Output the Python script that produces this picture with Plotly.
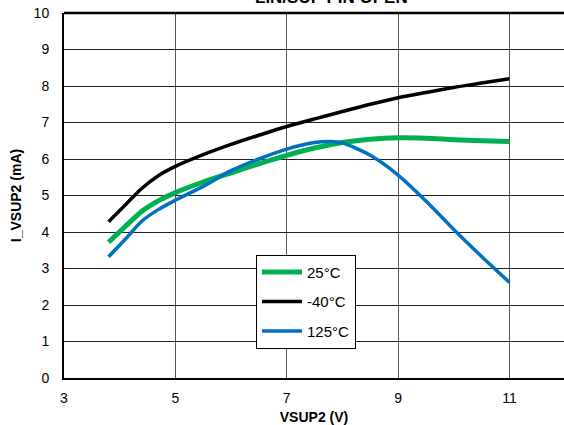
import plotly.graph_objects as go

x_25 = [3.8, 4.1, 4.4, 4.7, 5.0, 5.5, 6.0, 6.5, 7.0, 7.5, 8.0, 8.5, 9.0, 9.5, 10.0, 10.5, 11.0]
y_25 = [3.72, 4.15, 4.57, 4.86, 5.08, 5.37, 5.62, 5.87, 6.1, 6.3, 6.45, 6.54, 6.58, 6.57, 6.53, 6.5, 6.48]

x_m40 = [3.8, 4.1, 4.4, 4.7, 5.0, 5.5, 6.0, 6.5, 7.0, 7.5, 8.0, 8.5, 9.0, 9.5, 10.0, 10.5, 11.0]
y_m40 = [4.28, 4.74, 5.2, 5.55, 5.8, 6.12, 6.4, 6.65, 6.89, 7.1, 7.3, 7.5, 7.68, 7.82, 7.96, 8.08, 8.2]

x_125 = [3.8, 4.1, 4.4, 4.7, 5.0, 5.5, 6.0, 6.5, 7.0, 7.5, 7.8, 8.0, 8.5, 9.0, 9.5, 10.0, 10.5, 11.0]
y_125 = [3.32, 3.8, 4.3, 4.62, 4.87, 5.25, 5.68, 6.0, 6.27, 6.45, 6.48, 6.44, 6.1, 5.56, 4.85, 4.07, 3.33, 2.62]

series = [
    ("25°C", x_25, y_25, "#00B050", 5),
    ("-40°C", x_m40, y_m40, "#000000", 3.5),
    ("125°C", x_125, y_125, "#0070C0", 3.5),
]

x_ticks = [3, 5, 7, 9, 11]
y_ticks = list(range(0, 11))
title_text = "LIN/SUP PIN OPEN"

fig = go.Figure()
for name, xs, ys, color, w in series:
    fig.add_trace(go.Scatter(x=xs, y=ys, mode="lines", name=name, legendgroup=name,
                             line=dict(color=color, width=w, shape="spline", smoothing=0.8)))

fig.update_layout(
    width=564, height=425,
    margin=dict(l=64, r=0, t=13, b=47),
    paper_bgcolor="white", plot_bgcolor="white",
    font=dict(family="Arial, Liberation Sans, sans-serif", color="#000000", size=14),
    showlegend=True,
    legend=dict(x=0.384, y=0.338, xanchor="left", yanchor="top",
                bgcolor="white", bordercolor="#000", borderwidth=1,
                font=dict(size=15, color="#000"), itemwidth=40,
                tracegroupgap=7),
    xaxis=dict(range=[3, 11.98], tickvals=x_ticks, showgrid=True, gridcolor="#555",
               gridwidth=1, showline=True, linecolor="#000", linewidth=2, mirror=False,
               zeroline=False, ticks="", ticklabelstandoff=6, automargin=False,
               title=dict(text="<b>VSUP2 (V)</b>", font=dict(size=14), standoff=19)),
    yaxis=dict(range=[0, 10], tickvals=y_ticks, showgrid=True, gridcolor="#222",
               gridwidth=1, showline=True, linecolor="#000", linewidth=2, mirror=False,
               zeroline=False, ticks="", ticklabelstandoff=10, automargin=False,
               title=dict(text="<b>I_VSUP2 (mA)</b>", font=dict(size=14), standoff=9)),
)
fig.add_annotation(text="<b>" + title_text + "</b>", xref="paper", yref="paper",
                   x=0.535, y=1.012, xanchor="center", yanchor="bottom", showarrow=False,
                   font=dict(size=17, color="#000"))
fig.add_shape(type="line", xref="paper", yref="paper", x0=0, x1=1, y0=1, y1=1,
              line=dict(color="#000", width=2.5))

fig.write_html("out.html")
